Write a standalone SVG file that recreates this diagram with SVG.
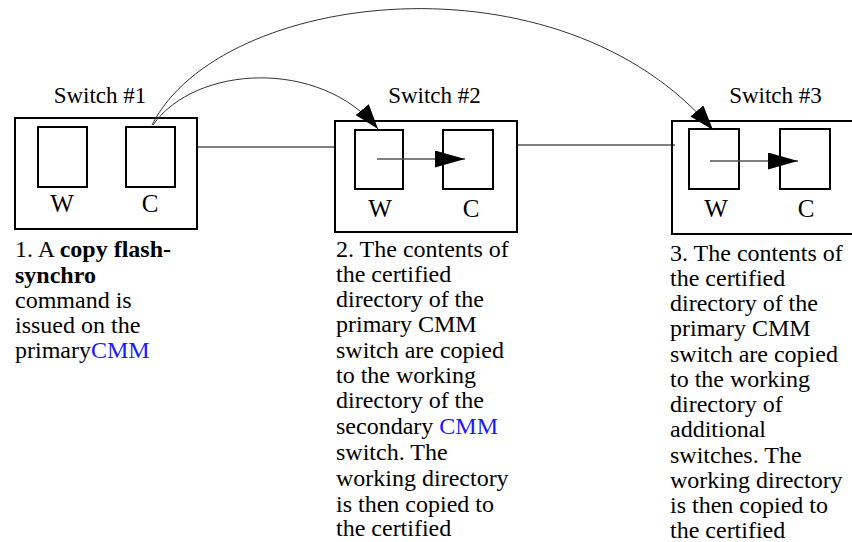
<svg xmlns="http://www.w3.org/2000/svg" width="852" height="542" viewBox="0 0 852 542">
<style>
text{font-family:'Liberation Serif','Times New Roman',serif}
.box{fill:none;stroke:#000;stroke-width:2}
.lbl{font-size:23px;fill:#000;text-anchor:middle}
.wc{font-size:25px;fill:#000;text-anchor:middle}
.body{font-size:24px;fill:#000}
.blue{fill:#1a1aff}
.link{fill:none;stroke:#000;stroke-width:1}
.arc{fill:none;stroke:#333;stroke-width:1}
.inner{fill:none;stroke:#555;stroke-width:1.3}
</style>
<defs>
<marker id="ah" markerUnits="userSpaceOnUse" markerWidth="26" markerHeight="18" refX="25" refY="8.5" orient="auto">
<path d="M0,0 L25,8.5 L0,17 z" fill="#000"/>
</marker>
<marker id="ah2" markerUnits="userSpaceOnUse" markerWidth="31" markerHeight="18" refX="30" refY="8.5" orient="auto">
<path d="M0,0 L30,8.5 L0,17 z" fill="#000"/>
</marker>
</defs>

<g id="switch1">
<text class="lbl" x="100" y="103">Switch #1</text>
<rect class="box" x="15" y="118" width="182" height="111"/>
<rect class="box" x="38" y="127" width="49" height="60"/>
<rect class="box" x="126" y="127" width="49" height="60"/>
<text class="wc" x="62" y="212">W</text>
<text class="wc" x="150" y="212">C</text>
</g>

<g id="switch2">
<text class="lbl" x="434.5" y="103">Switch #2</text>
<rect class="box" x="335" y="121" width="182" height="111"/>
<rect class="box" x="355" y="130" width="48" height="59"/>
<rect class="box" x="443" y="130" width="50" height="59"/>
<text class="wc" x="380" y="217">W</text>
<text class="wc" x="471" y="217">C</text>
</g>

<g id="switch3">
<text class="lbl" x="775.5" y="103">Switch #3</text>
<rect class="box" x="672" y="121" width="200" height="113"/>
<rect class="box" x="689" y="129" width="50" height="60"/>
<rect class="box" x="780" y="129" width="50" height="60"/>
<text class="wc" x="716" y="217">W</text>
<text class="wc" x="806" y="217">C</text>
</g>

<g id="connectors">
<line class="link" x1="197" y1="147" x2="335" y2="147"/>
<line class="link" x1="517" y1="145" x2="675" y2="145"/>
<path class="arc" d="M153,125 C195,65 320,58 378,129" marker-end="url(#ah)"/>
<path class="arc" d="M152,125 C220,-10 560,-51 713,130" marker-end="url(#ah)"/>
<line class="inner" x1="377" y1="159" x2="465" y2="159" marker-end="url(#ah2)"/>
<line class="inner" x1="710" y1="161" x2="798" y2="161" marker-end="url(#ah2)"/>
</g>

<g id="note1">
<text class="body" x="15" y="257">1. A <tspan font-weight="bold">copy flash-</tspan></text>
<text class="body" x="15" y="283" font-weight="bold">synchro</text>
<text class="body" x="15" y="308">command is</text>
<text class="body" x="15" y="333">issued on the</text>
<text class="body" x="15" y="358">primary<tspan class="blue">CMM</tspan></text>
</g>

<g id="note2">
<text class="body" x="336" y="257">2. The contents of</text>
<text class="body" x="336" y="282">the certified</text>
<text class="body" x="336" y="307">directory of the</text>
<text class="body" x="336" y="332">primary CMM</text>
<text class="body" x="336" y="358">switch are copied</text>
<text class="body" x="336" y="383">to the working</text>
<text class="body" x="336" y="408">directory of the</text>
<text class="body" x="336" y="434">secondary <tspan class="blue">CMM</tspan></text>
<text class="body" x="336" y="460">switch. The</text>
<text class="body" x="336" y="486">working directory</text>
<text class="body" x="336" y="512">is then copied to</text>
<text class="body" x="336" y="536">the certified</text>
</g>

<g id="note3">
<text class="body" x="670" y="261">3. The contents of</text>
<text class="body" x="670" y="286">the certified</text>
<text class="body" x="670" y="311">directory of the</text>
<text class="body" x="670" y="336">primary CMM</text>
<text class="body" x="670" y="362">switch are copied</text>
<text class="body" x="670" y="387">to the working</text>
<text class="body" x="670" y="412">directory of</text>
<text class="body" x="670" y="437">additional</text>
<text class="body" x="670" y="463">switches. The</text>
<text class="body" x="670" y="488">working directory</text>
<text class="body" x="670" y="513">is then copied to</text>
<text class="body" x="670" y="538">the certified</text>
</g>
</svg>
